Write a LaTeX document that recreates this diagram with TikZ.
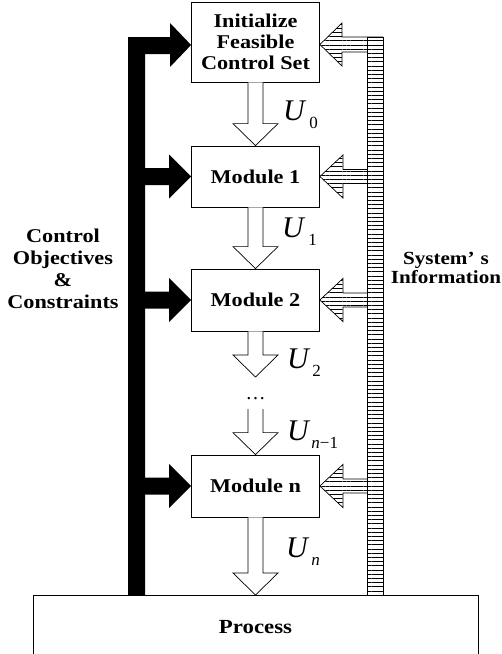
\documentclass[tikz,border=0pt]{standalone}
\usepackage{fontspec}
\setmainfont{Liberation Serif}
\newfontfamily\lblfont[FakeStretch=1.14]{Liberation Serif}
\usetikzlibrary{calc,patterns.meta}

\newcommand\hollowdown[2]{%
  \draw[hollow] let \p1=(#1), \p2=(#2) in
    (\x1-7.5pt,\y1) -- (\x1-7.5pt,\y2+22pt) -- (\x1-22.5pt,\y2+22pt) -- (\x2,\y2)
    -- (\x1+22.5pt,\y2+22pt) -- (\x1+7.5pt,\y2+22pt) -- (\x1+7.5pt,\y1);}
\newcommand\solidright[1]{%
  \fill let \p1=(#1) in
    (140pt,\y1+8.5pt) -- (\x1-22pt,\y1+8.5pt) -- (\x1-22pt,\y1+22pt) -- (\p1)
    -- (\x1-22pt,\y1-22pt) -- (\x1-22pt,\y1-8.5pt) -- (140pt,\y1-8.5pt) -- cycle;}
\newcommand\hatchleft[1]{%
  \draw[hatch] let \p1=(#1) in
    (367pt,\y1+7pt) -- (\x1+23pt,\y1+7pt) -- (\x1+23pt,\y1+21.5pt) -- (\p1)
    -- (\x1+23pt,\y1-21.5pt) -- (\x1+23pt,\y1-7pt) -- (367pt,\y1-7pt);}

\begin{document}
\begin{tikzpicture}[x=1pt,y=-1pt,
  box/.style={draw, line width=0.8pt, fill=white, inner sep=0pt, align=center,
    minimum width=128pt, font=\lblfont\bfseries\fontsize{19.5}{21}\selectfont},
  lbl/.style={align=center, inner sep=0pt, font=\lblfont\bfseries\fontsize{20}{22}\selectfont},
  ulbl/.style={anchor=base west, inner sep=0pt, font=\fontsize{30}{30}\selectfont},
  hollow/.style={draw, line width=0.7pt, fill=white, line join=miter},
  hatch/.style={draw, line width=0.7pt, pattern={Lines[angle=0,distance=4.2pt,line width=0.7pt]}},
  ]
\useasboundingbox (0,0) rectangle (502,654);

% main boxes
\node[box, minimum height=80pt] (init) at (255.5,42) {Initialize\\Feasible\\Control Set};
\node[box, minimum height=61pt] (m1) at (255.5,176.5) {Module 1};
\node[box, minimum height=62pt] (m2) at (255.5,300) {Module 2};
\node[box, minimum height=62pt] (mn) at (255.5,486) {Module n};

% process
\draw[line width=0.8pt] (33,654) -- (33,595) -- (478,595) -- (478,654);
\node[lbl] (proc) at (255.5,627) {Process};
\coordinate (ptop) at (255.5,595);

% left black bar with arrows
\coordinate (itipL) at (init.west |- 0,45);
\fill (128,595) -- (128,37) -- (170,37) -- (170,23) -- (itipL)
  -- (170,67) -- (170,54) -- (145,54) -- (145,595) -- cycle;
\solidright{m1.west}
\solidright{m2.west}
\solidright{mn.west}

% right hatched bar with arrows
\draw[hatch] (367,37) rectangle (383,595);
\coordinate (itipR) at (init.east |- 0,44.5);
\draw[hatch] (383,37) -- (342,37) -- (342,23) -- (itipR)
  -- (342,66) -- (342,52) -- (367,52);
\hatchleft{m1.east}
\hatchleft{m2.east}
\hatchleft{mn.east}

% down hollow arrows
\coordinate (c2) at (255.5,377);
\coordinate (c3) at (255.5,409);
\hollowdown{init.south}{m1.north}
\hollowdown{m1.south}{m2.north}
\hollowdown{m2.south}{c2}
\hollowdown{c3}{mn.north}
\hollowdown{mn.south}{ptop}
\node[anchor=base, inner sep=0pt, font=\fontsize{20}{20}\selectfont] (dots) at (255.5,399) {…};

% U labels
\node[ulbl] (u0) at (283,120) {\textit{U}\kern3pt\raisebox{-8pt}{\fontsize{17}{17}\selectfont 0}};
\node[ulbl] (u1) at (282,237) {\textit{U}\kern3pt\raisebox{-8pt}{\fontsize{17}{17}\selectfont 1}};
\node[ulbl] (u2) at (287,368) {\textit{U}\kern2pt\raisebox{-8pt}{\fontsize{17}{17}\selectfont 2}};
\node[ulbl] (un1) at (287,440) {\textit{U}\kern1pt\raisebox{-8pt}{\fontsize{17}{17}\selectfont\textit{n}−1}};
\node[ulbl] (un) at (286,557) {\textit{U}\kern2pt\raisebox{-8pt}{\fontsize{17}{17}\selectfont\textit{n}}};

% side labels
\node[lbl, font=\lblfont\bfseries\fontsize{19.5}{22}\selectfont] (obj) at (63,269) {Control\\Objectives\\\&\\Constraints};
\node[lbl, font=\lblfont\bfseries\fontsize{18.5}{18.5}\selectfont] (sys) at (446,268) {System’\,\,s\\Information};
\end{tikzpicture}
\end{document}
